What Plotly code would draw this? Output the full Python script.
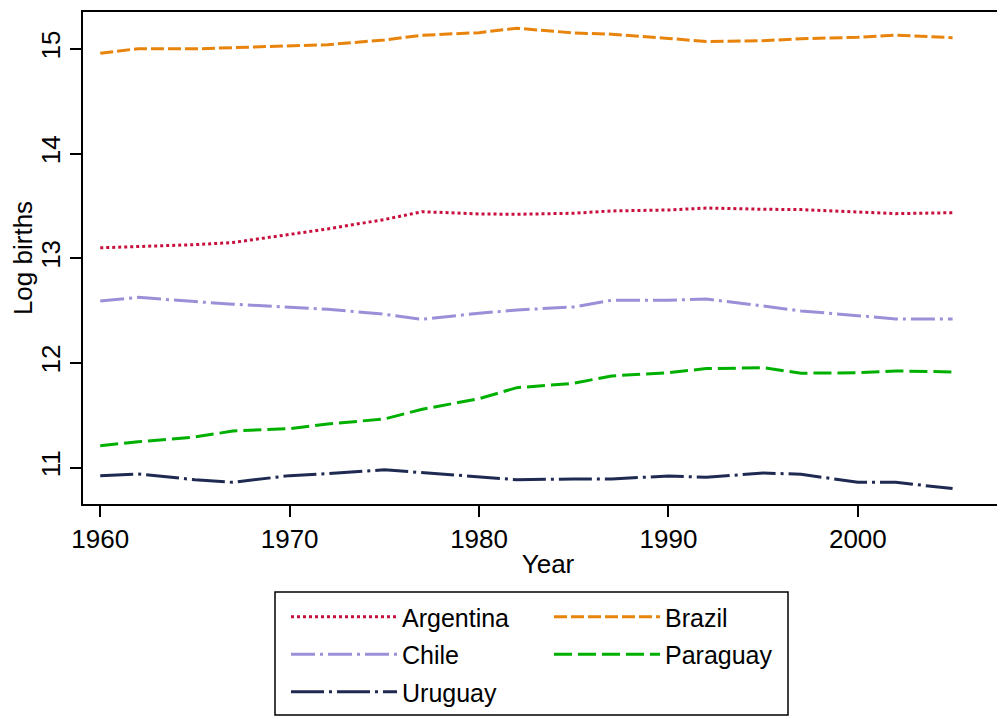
import plotly.graph_objects as go

years = [1960, 1962, 1965, 1967, 1970, 1972, 1975, 1977, 1980, 1982,
         1985, 1987, 1990, 1992, 1995, 1997, 2000, 2002, 2005]

argentina = [13.10, 13.11, 13.13, 13.15, 13.225, 13.28, 13.37, 13.445, 13.423, 13.42,
             13.43, 13.452, 13.461, 13.48, 13.468, 13.465, 13.442, 13.426, 13.435]
brazil = [14.958, 15.002, 15.00, 15.01, 15.025, 15.04, 15.085, 15.13, 15.155, 15.197,
          15.152, 15.14, 15.10, 15.07, 15.078, 15.097, 15.11, 15.13, 15.107]
chile = [12.592, 12.627, 12.586, 12.561, 12.532, 12.513, 12.465, 12.417, 12.475, 12.506,
         12.535, 12.599, 12.599, 12.611, 12.544, 12.497, 12.452, 12.42, 12.42]
paraguay = [11.21, 11.248, 11.293, 11.35, 11.373, 11.417, 11.465, 11.558, 11.659, 11.764,
            11.806, 11.876, 11.907, 11.946, 11.955, 11.902, 11.907, 11.924, 11.914]
uruguay = [10.924, 10.94, 10.885, 10.86, 10.924, 10.943, 10.98, 10.952, 10.914, 10.885,
           10.892, 10.892, 10.921, 10.908, 10.949, 10.937, 10.86, 10.86, 10.80]

x_ticks = [1960, 1970, 1980, 1990, 2000]
y_ticks = [11, 12, 13, 14, 15]

FONT = "Liberation Sans, Arial, sans-serif"

series = [
    ("Argentina", argentina, "#c8103c", "3px,3px", "legend"),
    ("Brazil", brazil, "#e8830c", "13px,4px", "legend2"),
    ("Chile", chile, "#9a90d8", "24px,5px,3px,5px", "legend"),
    ("Paraguay", paraguay, "#00b000", "18px,6px", "legend2"),
    ("Uruguay", uruguay, "#1e2a52", "33px,5px,3px,5px", "legend"),
]

fig = go.Figure()
for name, vals, color, dash, leg in series:
    fig.add_trace(go.Scatter(
        x=years, y=vals, mode="lines", name=name, legend=leg, legendgroup=name,
        line=dict(color=color, width=3, dash=dash),
    ))

# page body adds an 8px offset; compensate so the screenshot lines up
OFF = 8
W, H = 1005, 719
L, R, T, B = 75, 0, 4, 223

def px_x(p):
    return (p - OFF - L) / (W - L - R)

def px_y(p):
    return (H - B - (p - OFF)) / (H - B - T)

legend_common = dict(
    orientation="v", xanchor="left", yanchor="top",
    font=dict(family=FONT, size=25, color="black"),
    bgcolor="rgba(0,0,0,0)", borderwidth=0, itemwidth=106,
    tracegroupgap=2, traceorder="grouped",
)

fig.update_layout(
    width=W, height=H,
    margin=dict(l=L, r=R, t=T, b=B, autoexpand=False),
    paper_bgcolor="white", plot_bgcolor="white",
    font=dict(family=FONT, size=26, color="black"),
    showlegend=True,
    legend=dict(x=px_x(286), y=px_y(594), **legend_common),
    legend2=dict(x=px_x(549), y=px_y(594), **legend_common),
    xaxis=dict(
        range=[1959.09, 2008.19], tickmode="array", tickvals=x_ticks,
        ticks="outside", ticklen=11, tickwidth=1.5, tickcolor="black",
        showline=True, linecolor="black", linewidth=2, mirror=True,
        showgrid=False, zeroline=False, automargin=False,
        tickfont=dict(family=FONT, size=26, color="black"),
        title=dict(text="Year", font=dict(family=FONT, size=26, color="black"), standoff=2),
    ),
    yaxis=dict(
        range=[10.653, 15.352], tickmode="array", tickvals=y_ticks,
        ticks="outside", ticklen=11, tickwidth=1.5, tickcolor="black",
        tickangle=-90,
        showline=True, linecolor="black", linewidth=2, mirror=False,
        showgrid=False, zeroline=False, automargin=False,
        tickfont=dict(family=FONT, size=26, color="black"),
        title=dict(text="Log births", font=dict(family=FONT, size=26, color="black"), standoff=2),
    ),
    shapes=[dict(
        type="rect", xref="paper", yref="paper",
        x0=px_x(275), x1=px_x(788), y0=px_y(715), y1=px_y(592),
        line=dict(color="black", width=1.5), fillcolor="rgba(0,0,0,0)",
    )],
)

fig.write_html("out.html")
